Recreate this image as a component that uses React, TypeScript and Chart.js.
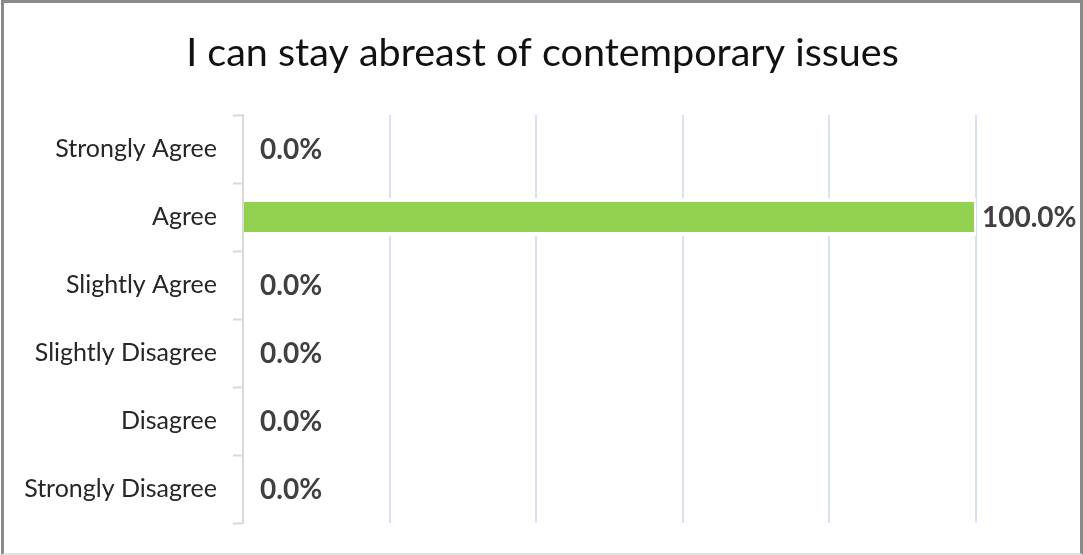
import React, { useEffect, useRef } from "react";
import { Chart, registerables } from "chart.js";

Chart.register(...registerables);

const TITLE = "I can stay abreast of contemporary issues";
const CATEGORIES = [
  "Strongly Agree",
  "Agree",
  "Slightly Agree",
  "Slightly Disagree",
  "Disagree",
  "Strongly Disagree",
];
const PERCENTS = [0, 100, 0, 0, 0, 0];
const X_TICKS_STEP = 20;

const FONT = "Lato, 'Open Sans', sans-serif";

const labelPlugin = {
  id: "barValueLabels",
  afterDatasetsDraw(chart: any) {
    const ctx = chart.ctx;
    const meta = chart.getDatasetMeta(0);
    ctx.save();
    ctx.font = `bold 28px ${FONT}`;
    ctx.fillStyle = "#404040";
    ctx.textAlign = "left";
    ctx.textBaseline = "middle";
    meta.data.forEach((el: any, i: number) => {
      const v = PERCENTS[i];
      const off = v === 0 ? 17 : 6;
      ctx.fillText(v.toFixed(1) + "%", el.x + off, el.y + 1);
    });
    ctx.restore();
  },
};

const titlePlugin = {
  id: "centeredTitle",
  afterDraw(chart: any) {
    const ctx = chart.ctx;
    ctx.save();
    ctx.font = `39.5px ${FONT}`;
    ctx.fillStyle = "#111111";
    ctx.textAlign = "center";
    ctx.textBaseline = "middle";
    ctx.fillText(TITLE, chart.width / 2 + 1, 53);
    ctx.restore();
  },
};

export default function App() {
  const ref = useRef<HTMLCanvasElement | null>(null);
  useEffect(() => {
    if (!ref.current) return;
    const chart = new Chart(ref.current, {
      type: "bar",
      data: {
        labels: CATEGORIES,
        datasets: [
          {
            data: PERCENTS,
            backgroundColor: "#92d050",
            borderColor: "#ffffff",
            borderWidth: { top: 4, bottom: 4, right: 2, left: 0 } as any,
            borderSkipped: false,
            barPercentage: 0.56,
            categoryPercentage: 1,
          },
        ],
      },
      options: {
        indexAxis: "y",
        animation: false,
        responsive: false,
        maintainAspectRatio: false,
        layout: { padding: { top: 115, right: 107, bottom: 32, left: 0 } },
        plugins: {
          legend: { display: false },
          tooltip: { enabled: false },
          title: { display: false },
        },
        scales: {
          x: {
            min: 0,
            max: 100,
            ticks: { display: false, stepSize: X_TICKS_STEP },
            grid: { color: "#d9e1f2", lineWidth: 2, drawTicks: false },
            border: { display: false },
          },
          y: {
            ticks: {
              color: "#262626",
              font: { family: FONT, size: 25 },
              padding: 16,
            },
            grid: {
              drawOnChartArea: false,
              drawTicks: true,
              tickLength: 10,
              tickColor: "#d9d9d9",
              tickWidth: 2,
            },
            border: { display: true, color: "#d9d9d9", width: 2 },
            afterFit: (scale: any) => {
              scale.width = 243;
            },
          },
        },
      },
      plugins: [labelPlugin, titlePlugin],
    });
    return () => chart.destroy();
  }, []);

  return (
    <div style={{ position: "absolute", left: 0, top: 0, width: 1083, height: 555, background: "#fff" }}>
      <canvas ref={ref} width={1083} height={555} style={{ position: "absolute", left: 0, top: 0 }} />
      <div
        style={{
          position: "absolute",
          left: 1,
          top: 0,
          width: 1082,
          height: 555,
          boxSizing: "border-box",
          borderTop: "3px solid #8a8a8a",
          borderLeft: "3px solid #8a8a8a",
          borderRight: "3px solid #8a8a8a",
          borderBottom: "2px solid #e3e3e3",
          pointerEvents: "none",
        }}
      />
    </div>
  );
}
